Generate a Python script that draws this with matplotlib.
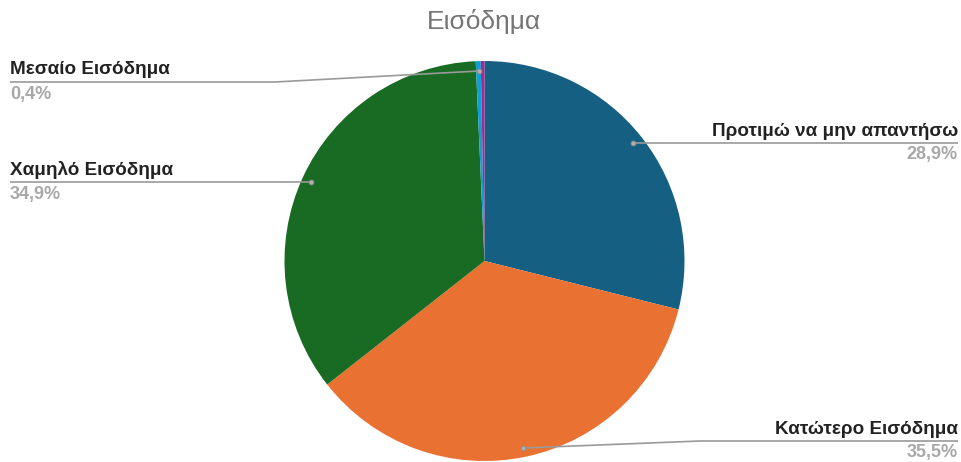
import matplotlib.pyplot as plt

# δεδομένα (δεξιόστροφα από τις 12)
labels = ["Προτιμώ να μην απαντήσω", "Κατώτερο Εισόδημα", "Χαμηλό Εισόδημα",
          "Μεσαίο Εισόδημα", "Υψηλό Εισόδημα"]
values = [28.9, 35.5, 34.9, 0.4, 0.3]
pct_text = ["28,9%", "35,5%", "34,9%", "0,4%", ""]
colors = ["#156082", "#E97132", "#196B24", "#0F9ED5", "#A02B93"]

plt.rcParams['font.family'] = ['Liberation Sans', 'DejaVu Sans']

fig = plt.figure(figsize=(9.62, 4.62), dpi=100)
ax = fig.add_axes([0, 0, 1, 1])

H = 462
cx, cy, r = 484.5, H - 261, 200
wedges, _ = ax.pie(values, colors=colors, startangle=90, counterclock=False,
                   center=(cx, cy), radius=r, frame=True)
ax.set_xlim(0, 962)
ax.set_ylim(0, 462)
ax.axis('off')

fig.text(0.503, 1 - 22 / H, "Εισόδημα", ha='center', va='center',
         fontsize=19, color='#757575')

line_c = '#9a9a9a'
lab_fs = 13.6
pct_fs = 13

def leader(pts, dot):
    xs = [p[0] for p in pts]
    ys = [H - p[1] for p in pts]
    ax.plot(xs, ys, color=line_c, lw=1.2, solid_capstyle='butt')
    ax.plot(dot[0], H - dot[1], 'o', color='#b0b0b0', ms=3.5, mec='#8a8a8a', mew=0.6)

# Μεσαίο
leader([(10, 82), (275, 82), (479, 71)], (479, 71))
ax.text(10, H - 70, labels[3], ha='left', va='center', fontsize=lab_fs,
        fontweight='bold', color='#222222')
ax.text(10, H - 94, pct_text[3], ha='left', va='center', fontsize=pct_fs,
        fontweight='bold', color='#a8a8a8')

# Χαμηλό
leader([(10, 182), (311, 182)], (311, 182))
ax.text(10, H - 170, labels[2], ha='left', va='center', fontsize=lab_fs,
        fontweight='bold', color='#222222')
ax.text(10, H - 194, pct_text[2], ha='left', va='center', fontsize=pct_fs,
        fontweight='bold', color='#a8a8a8')

# Προτιμώ
leader([(633, 143), (958, 143)], (633, 143))
ax.text(958, H - 131, labels[0], ha='right', va='center', fontsize=lab_fs,
        fontweight='bold', color='#222222')
ax.text(958, H - 155, pct_text[0], ha='right', va='center', fontsize=pct_fs,
        fontweight='bold', color='#a8a8a8')

# Κατώτερο
leader([(523, 448), (700, 441), (958, 441)], (523, 448))
ax.text(958, H - 429, labels[1], ha='right', va='center', fontsize=lab_fs,
        fontweight='bold', color='#222222')
ax.text(958, H - 453, pct_text[1], ha='right', va='center', fontsize=pct_fs,
        fontweight='bold', color='#a8a8a8')

fig.savefig("out.png", dpi=100, facecolor='white')
